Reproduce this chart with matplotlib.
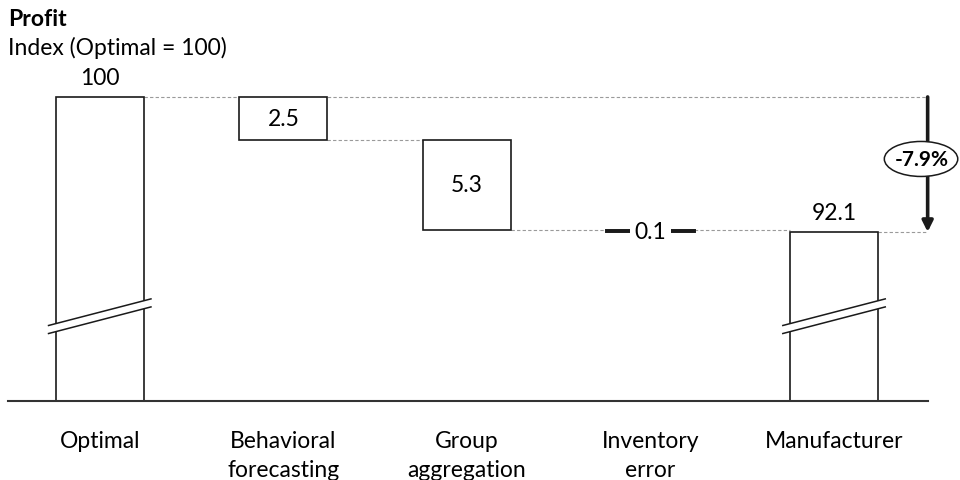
import matplotlib
matplotlib.use("Agg")
import matplotlib.pyplot as plt
from matplotlib.patches import Ellipse, Polygon

plt.rcParams['font.family'] = ['Lato', 'DejaVu Sans']

# ---- data ----
categories = ["Optimal", "Behavioral\nforecasting", "Group\naggregation",
              "Inventory\nerror", "Manufacturer"]
start_value = 100.0
drops = [2.5, 5.3, 0.1]
end_value = 92.1
change_label = "-7.9%"
title = "Profit"
subtitle = "Index (Optimal = 100)"

# ---- layout ----
y_floor = 82.2
bar_w = 0.48
edge = "#1a1a1a"
dash_col = "#9a9a9a"
fs = 16.5

fig = plt.figure(figsize=(9.6, 4.81), dpi=100)
ax = fig.add_axes([0.0083, 0.1642, 0.958, 0.711])
ax.set_xlim(-0.5, 4.51)
ax.set_ylim(y_floor, 102.22)
ax.axis("off")

x = list(range(len(categories)))

# running levels of the waterfall
levels = [start_value]
for d in drops:
    levels.append(round(levels[-1] - d, 2))

# total bars
for xi, val in ((x[0], start_value), (x[-1], end_value)):
    ax.bar(xi, val - y_floor, bottom=y_floor, width=bar_w, facecolor="white",
           edgecolor=edge, linewidth=1.2, zorder=2)

# floating drop bars
for i, d in enumerate(drops):
    xi = x[i + 1]
    if d < 0.5:
        ax.bar(xi, d, bottom=levels[i + 1], width=bar_w, facecolor=edge,
               edgecolor=edge, linewidth=1.4, zorder=2)
        ax.text(xi, levels[i + 1] + d / 2, f"{d:g}", ha="center", va="center",
                fontsize=fs, zorder=4,
                bbox=dict(boxstyle="square,pad=0.22", fc="white", ec="none"))
    else:
        ax.bar(xi, d, bottom=levels[i + 1], width=bar_w, facecolor="white",
               edgecolor=edge, linewidth=1.2, zorder=2)
        ax.text(xi, levels[i + 1] + d / 2, f"{d:g}", ha="center", va="center",
                fontsize=fs, zorder=4)

# axis-break marks on the total bars
half = 0.283
y_lo_left, y_lo_right = 86.61, 88.19
gap = 0.47
for xi in (x[0], x[-1]):
    poly = Polygon([(xi - half, y_lo_left), (xi + half, y_lo_right),
                    (xi + half, y_lo_right - gap), (xi - half, y_lo_left - gap)],
                   closed=True, facecolor="white", edgecolor="none", zorder=3)
    ax.add_patch(poly)
    ax.plot([xi - half, xi + half], [y_lo_left, y_lo_right], color=edge,
            lw=1.1, zorder=4, solid_capstyle="butt")
    ax.plot([xi - half, xi + half], [y_lo_left - gap, y_lo_right - gap],
            color=edge, lw=1.1, zorder=4, solid_capstyle="butt")

# dashed connectors
arrow_x = 4.51
dash = dict(color=dash_col, lw=0.8, linestyle=(0, (3, 2)), zorder=1)
ax.plot([x[0] + bar_w / 2, arrow_x], [start_value] * 2, **dash)
ax.plot([x[1] + bar_w / 2, x[2] - bar_w / 2], [levels[1]] * 2, **dash)
ax.plot([x[2] + bar_w / 2, x[4] - bar_w / 2], [levels[2]] * 2, **dash)
ax.plot([x[4] + bar_w / 2, arrow_x], [end_value] * 2, **dash)

# total labels
ax.text(x[0], start_value + 0.5, f"{start_value:g}", ha="center", va="bottom",
        fontsize=fs)
ax.text(x[-1], end_value + 0.5, f"{end_value:g}", ha="center", va="bottom",
        fontsize=fs)

# baseline
ax.plot([-0.5, arrow_x], [y_floor] * 2, color="#333333", lw=1.5,
        clip_on=False, zorder=5)

# overall change arrow with label
ax.annotate("", xy=(arrow_x, end_value), xytext=(arrow_x, start_value),
            arrowprops=dict(arrowstyle="-|>", lw=2.6, color=edge,
                            mutation_scale=16, shrinkA=0, shrinkB=0),
            annotation_clip=False, zorder=5)
ell = Ellipse((4.474, 96.37), 0.40, 2.05, facecolor="white", edgecolor=edge,
              linewidth=1.1, clip_on=False, zorder=6)
ax.add_patch(ell)
ax.text(4.478, 96.37, change_label, ha="center", va="center", fontsize=15,
        fontweight="bold", zorder=7, clip_on=False)

# category labels
for xi, lab in zip(x, categories):
    ax.text(xi, y_floor - 1.7, lab, ha="center", va="top", fontsize=fs,
            linespacing=1.45)

# titles
fig.text(0.0083, 0.960, title, ha="left", va="center", fontsize=fs,
         fontweight="bold")
fig.text(0.0083, 0.900, subtitle, ha="left", va="center", fontsize=fs)

fig.savefig("out.png", dpi=100, facecolor="white")
